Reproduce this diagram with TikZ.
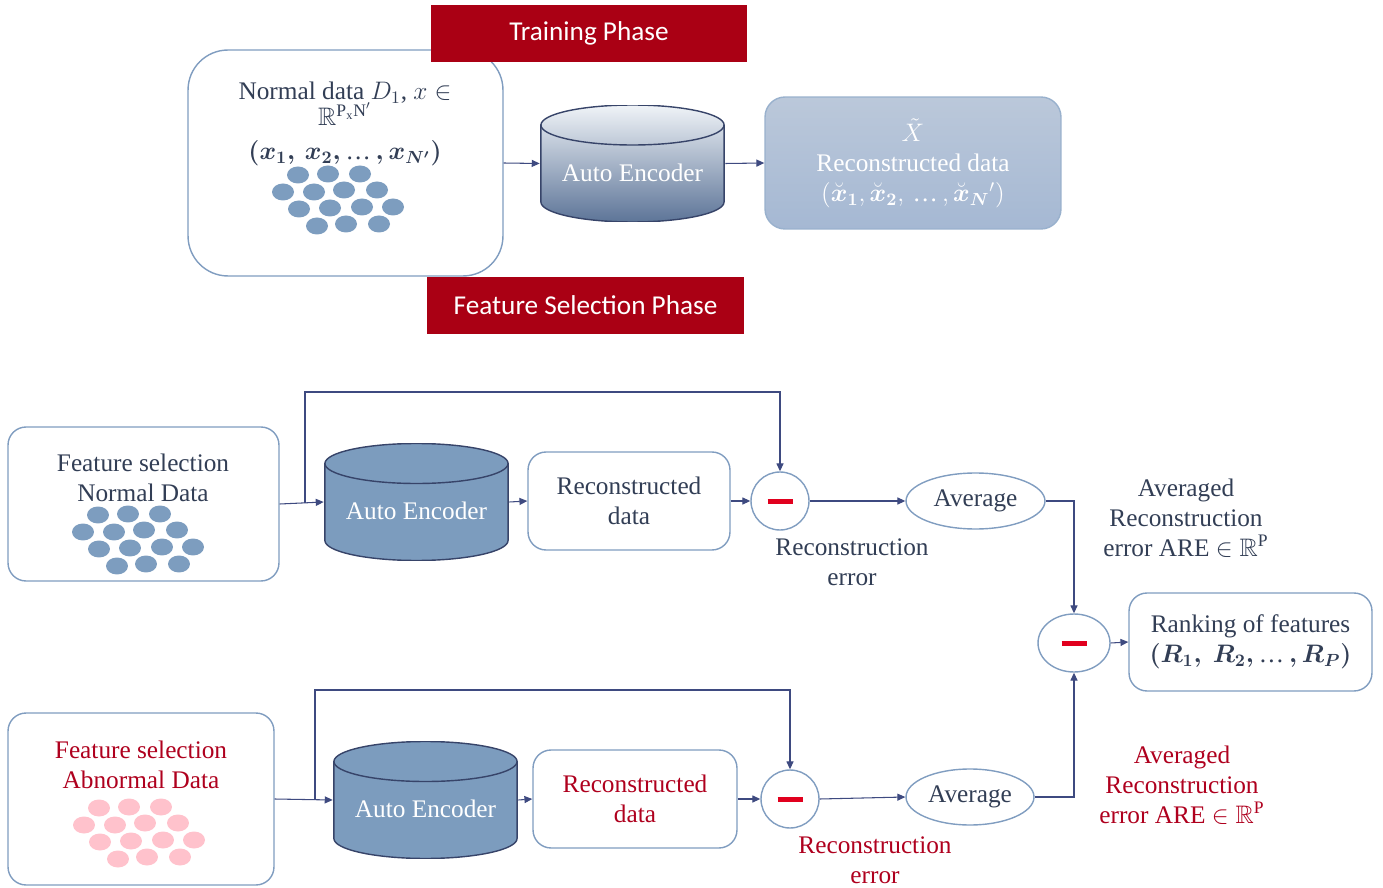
\documentclass[tikz,border=0pt]{standalone}
\usepackage{amsmath,amssymb}
\usepackage{fontspec}
\setmainfont{Liberation Serif}
\newfontfamily\bannerfont{Carlito}
\usetikzlibrary{shapes.geometric,arrows.meta,positioning}
\definecolor{navytxt}{RGB}{50,62,85}
\definecolor{edgeblue}{RGB}{128,157,192}
\definecolor{arrowblue}{RGB}{62,74,128}
\definecolor{bannerred}{RGB}{170,0,20}
\definecolor{abnred}{RGB}{175,0,30}
\definecolor{minusred}{RGB}{225,0,30}
\definecolor{dotblue}{RGB}{125,157,191}
\definecolor{dotpink}{RGB}{255,194,204}
\definecolor{cylblue}{RGB}{124,156,190}
\definecolor{cylline}{RGB}{55,68,105}
\definecolor{recfilltop}{RGB}{187,200,218}
\definecolor{recfillbot}{RGB}{165,184,211}

% cluster of data points, first dot at (#1,#2)
\newcommand{\dotcloud}[3]{%
  \foreach \dx/\dy in {0/0,30/-1,62/-1,-15/17,16/17,46/15,79/15,
                       1/34,32/33,64/32,95/32,19/51,48/49,81/49}
    \fill[#3] (#1+\dx,#2+\dy) ellipse (0.22cm and 0.17cm);
}
% cylinder body drawn inside the node's box
\newcommand{\drawcylinder}[1]{%
  \path[#1,draw=cylline,line width=0.8pt]
    ([xshift=0.5pt,yshift=-0.4cm]path picture bounding box.north west)
    -- ([xshift=0.5pt,yshift=0.4cm]path picture bounding box.south west)
    arc[start angle=180,end angle=360,x radius=1.832cm,y radius=0.4cm]
    -- ([xshift=-0.5pt,yshift=-0.4cm]path picture bounding box.north east)
    arc[start angle=0,end angle=180,x radius=1.832cm,y radius=0.4cm] -- cycle;
  \draw[cylline,line width=0.8pt]
    ([xshift=0.5pt,yshift=-0.4cm]path picture bounding box.north west)
    arc[start angle=180,end angle=360,x radius=1.832cm,y radius=0.4cm];
}

\begin{document}
\begin{tikzpicture}[x=0.02cm,y=-0.02cm,
    every node/.style={font=\fontsize{14.4}{17}\selectfont,text=navytxt},
    banner/.style={fill=bannerred,minimum width=6.33cm,minimum height=1.14cm,
      font=\bannerfont\fontsize{15.5}{18}\selectfont,text=white},
    box/.style={draw=edgeblue,fill=white,line width=0.8pt,rounded corners=0.36cm},
    cyl/.style={minimum width=3.7cm,minimum height=2.34cm,inner sep=0pt,
      text=white,text height=0.71cm,text depth=0cm,
      path picture={\drawcylinder{#1}}},
    minus/.style={draw=edgeblue,line width=0.8pt,inner sep=0pt},
    avg/.style={ellipse,draw=edgeblue,line width=0.8pt,minimum height=1.12cm,inner sep=0pt},
    conn/.style={draw=arrowblue,line width=0.6pt,-{Triangle[length=4.5pt,width=4pt]}}]
  \useasboundingbox (0,0) rectangle (1383,888);

  % training phase
  \node[box,rounded corners=0.8cm,minimum width=6.3cm,minimum height=4.52cm] (normtop) at (345.5,163) {};
  \node[banner] (train) at (589,33.5) {Training Phase};
  \node[banner] (fsphase) at (585.5,305.5) {Feature Selection Phase};
  \node[align=center] (normtxt) at (345,104) {Normal data $D_1$, $x\in$\\[-2pt]
    $\mathbb{R}^{\mathrm{P_xN}'}$};
  \node (normvec) at (345,153) {$\boldsymbol{(x_1,\,x_2,\,}\text{…}\boldsymbol{\,,x_{N'})}$};
  \dotcloud{298}{175}{dotblue}
  \node[cyl={top color=white!88!cylblue,middle color=white!50!cylblue,
    bottom color=cylline!45!cylblue}] (aetop) at (632.5,163.5) {Auto Encoder};
  \node[box,rounded corners=0.4cm,draw=white!20!edgeblue,top color=recfilltop,
    bottom color=recfillbot,minimum width=5.92cm,minimum height=2.64cm,
    align=center,text=white] (rectop) at (913,163)
    {$\tilde{X}$\\Reconstructed data\\
     $(\breve{\boldsymbol{x}}_{\boldsymbol{1}},\breve{\boldsymbol{x}}_{\boldsymbol{2}},\,\text{…}\,,
       \breve{\boldsymbol{x}}_{\boldsymbol{N}}{}')$};
  \draw[conn] (normtop.east) -- (aetop.west);
  \draw[conn] (aetop.east) -- (rectop.west);

  % feature selection, normal data
  \node[box,minimum width=5.42cm,minimum height=3.08cm] (fsn) at (143.5,504) {};
  \node[align=center] (fsntxt) at (143,478) {Feature selection\\Normal Data};
  \dotcloud{98}{515}{dotblue}
  \node[cyl={fill=cylblue}] (aen) at (416.5,502) {Auto Encoder};
  \node[box,minimum width=4.04cm,minimum height=1.96cm,align=center] (recn) at (629,501)
    {Reconstructed\\data};
  \node[minus,circle,minimum size=1.16cm] (minn) at (780,501)
    {\color{minusred}\rule{0.5cm}{0.1cm}};
  \node[avg,minimum width=2.78cm] (avgn) at (975.5,501) {Average};
  \node[align=center] (errn) at (852,562) {Reconstruction\\error};
  \node[align=center] (aren) at (1186,518)
    {Averaged\\Reconstruction\\error ARE $\in\mathbb{R}^{\mathrm{P}}$};
  \coordinate (splitn) at (305,503);
  \coordinate (loopn) at (305,392);
  \draw[conn] (fsn.east) -- (aen.west);
  \draw[conn] (splitn) -- (loopn) -| (minn.north);
  \draw[conn] (aen.east) -- (recn.west);
  \draw[conn] (recn.east) -- (minn.west);
  \draw[conn] (minn.east) -- (avgn.west);

  % ranking
  \node[minus,ellipse,minimum width=1.44cm,minimum height=1.16cm] (diff) at (1074,643)
    {\color{minusred}\rule{0.5cm}{0.1cm}};
  \node[box,minimum width=4.86cm,minimum height=1.96cm,align=center] (rank) at (1250.5,642)
    {Ranking of features\\$\boldsymbol{(R_1,\ R_2,\,}\text{…}\boldsymbol{\,,R_P)}$};
  \draw[conn] (avgn.east) -| (diff.north);
  \draw[conn] (diff.east) -- (rank.west);

  % feature selection, abnormal data
  \node[box,minimum width=5.32cm,minimum height=3.44cm] (fsa) at (141,799) {};
  \node[align=center,text=abnred] (fsatxt) at (141,765) {Feature selection\\Abnormal Data};
  \dotcloud{99}{808}{dotpink}
  \node[cyl={fill=cylblue}] (aea) at (425.5,800) {Auto Encoder};
  \node[box,minimum width=4.08cm,minimum height=1.96cm,align=center,text=abnred] (reca)
    at (635,799) {Reconstructed\\data};
  \node[minus,circle,minimum size=1.16cm] (mina) at (790,799)
    {\color{minusred}\rule{0.5cm}{0.1cm}};
  \node[avg,minimum width=2.56cm] (avga) at (970,797) {Average};
  \node[align=center,text=abnred] (erra) at (875,860) {Reconstruction\\error};
  \node[align=center,text=abnred] (area) at (1182,785)
    {Averaged\\Reconstruction\\error ARE $\in\mathbb{R}^{\mathrm{P}}$};
  \coordinate (splita) at (315,800);
  \coordinate (loopa) at (315,690);
  \draw[conn] (fsa.east) -- (aea.west);
  \draw[conn] (splita) -- (loopa) -| (mina.north);
  \draw[conn] (aea.east) -- (reca.west);
  \draw[conn] (reca.east) -- (mina.west);
  \draw[conn] (mina.east) -- (avga.west);
  \draw[conn] (avga.east) -| (diff.south);
\end{tikzpicture}
\end{document}
